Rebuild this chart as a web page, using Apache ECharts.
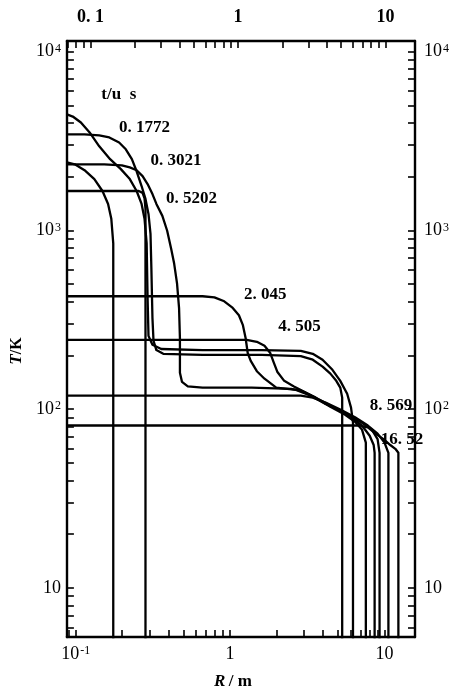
<!DOCTYPE html>
<html><head><meta charset="utf-8">
<script src="https://cdn.jsdelivr.net/npm/echarts@6/dist/echarts.min.js"></script>
<style>html,body{margin:0;padding:0;background:#fff}#c{width:452px;height:695px}</style>
</head><body><div id="c"></div>
<script>
// ---- data: [R (m), T (K)] ----
const curveEarly1 = [[0.0877,2400],[0.0986,2340],[0.114,2170],[0.132,1935],[0.149,1660],[0.162,1405],[0.170,1160],[0.175,845],[0.175,5]];
const curveEarly2 = [[0.0877,1660],[0.256,1660],[0.271,1620],[0.279,1510],[0.283,1320],[0.283,5]];
const curveT01772 = [[0.0877,4450],[0.0957,4330],[0.108,4010],[0.123,3530],[0.142,2950],[0.167,2500],[0.196,2200],[0.224,1935],[0.248,1660],[0.267,1405],[0.279,1160],[0.288,845],[0.292,417],[0.296,257],[0.314,229],[0.358,217],[0.663,214],[1.60,214],[2.87,212],[3.43,204],[3.97,189],[4.60,166],[5.17,144],[5.73,122],[6.07,102],[6.25,84],[6.25,5]];
const curveT03021 = [[0.0877,3440],[0.114,3440],[0.142,3400],[0.165,3310],[0.191,3100],[0.211,2840],[0.231,2500],[0.248,2140],[0.267,1770],[0.283,1500],[0.296,1235],[0.305,955],[0.309,612],[0.314,323],[0.319,241],[0.333,214],[0.369,204],[0.663,201],[1.60,201],[2.87,198],[3.43,189],[3.97,173],[4.46,158],[4.87,144],[5.17,132],[5.32,116],[5.32,5]];
const curveT05202 = [[0.0877,2340],[0.153,2340],[0.199,2310],[0.224,2250],[0.248,2170],[0.271,2010],[0.292,1815],[0.314,1595],[0.333,1405],[0.364,1205],[0.391,995],[0.415,790],[0.434,652],[0.453,505],[0.467,367],[0.473,250],[0.473,160],[0.488,142],[0.532,134],[0.663,132],[1.38,132],[2.48,130],[2.87,127],[3.58,116],[4.46,103],[5.56,93],[6.44,85],[7.14,77],[7.57,65],[7.57,5]];
const curveT2045 = [[0.0877,428],[0.663,428],[0.791,422],[0.916,401],[1.03,371],[1.14,335],[1.21,295],[1.26,250],[1.30,206],[1.36,186],[1.49,163],[1.67,148],[1.99,132],[2.67,128],[3.33,119],[4.15,107],[5.17,98],[6.16,90],[7.14,81],[8.02,71],[8.51,63],[8.63,57],[8.63,5]];
const curveT4505 = [[0.0877,244],[1.28,244],[1.49,238],[1.67,226],[1.82,206],[1.91,184],[2.02,162],[2.24,144],[2.59,134],[3.09,124],[3.85,112],[4.80,101],[5.98,92],[7.14,84],[8.26,77],[9.02,68],[9.29,57],[9.29,5]];
const curveT8569 = [[0.0877,119],[2.87,119],[3.43,116],[4.15,109],[5.17,99.5],[6.44,90],[7.80,81],[9.02,73],[10.0,65],[10.6,57],[10.6,5]];
const curveT1652 = [[0.0877,81],[6.93,81],[7.80,79],[8.76,73],[9.86,68],[10.9,63],[11.75,60],[12.3,57],[12.3,5]];

const curves = [curveEarly1, curveEarly2, curveT01772, curveT03021, curveT05202, curveT2045, curveT4505, curveT8569, curveT1652];
const curveNames = ['early-1', 'early-2', '0.1772', '0.3021', '0.5202', '2.045', '4.505', '8.569', '16.52'];

// annotation texts and their anchor (left edge) in data units
const noteTexts = ['t/u  s', '0. 1772', '0. 3021', '0. 5202', '2. 045', '4. 505', '8. 569', '16. 52'];
const noteR = [0.1465, 0.191, 0.305, 0.385, 1.23, 2.05, 8.02, 9.44];
const noteT = [5740, 3763, 2467, 1499, 439, 288, 104.7, 67.8];

// axis ticks / labels
const xTicksBottom = [0.09,0.1,0.2,0.3,0.4,0.5,0.6,0.7,0.8,0.9,1,2,3,4,5,6,7,8,9,10];
const xLabelsBottom = [0.1, 1, 10];
const xTicksTop = [0.07,0.08,0.09,0.1,0.2,0.3,0.4,0.5,0.6,0.7,0.8,0.9,1,2,3,4,5,6,7,8,9,10];
const xLabelsTop = [0.1, 1, 10];
const yTicks = [6,7,8,9,10,20,30,40,50,60,70,80,90,100,200,300,400,500,600,700,800,900,1000,2000,3000,4000,5000,6000,7000,8000,9000,10000];
const yLabels = [10, 100, 1000, 10000];

const SERIF = "'Liberation Serif','DejaVu Serif',serif";
const INK = '#000';

const richPow = {
  b: { fontSize: 18, fontFamily: SERIF, color: INK },
  s: { fontSize: 12, fontFamily: SERIF, color: INK, verticalAlign: 'top', padding: [0, 0, 0, 1] }
};
function powLabel(v) {
  const e = Math.round(Math.log10(v));
  if (e === 0) return '{b|1}';
  if (e === 1) return '{b|10}';
  return '{b|10}{s|' + e + '}';
}
function bottomLabel(v) {
  const e = Math.round(Math.log10(v));
  if (e === 0) return '{b|1}';
  if (e === 1) return '{b|10}';
  return '{b|10}{s|' + (e < 0 ? '-' : '') + Math.abs(e) + '}';
}

const tickStyle = { show: true, inside: true, length: 7, lineStyle: { color: INK, width: 1.6 } };
const lineStyleAxis = { show: true, onZero: false, lineStyle: { color: INK, width: 2.4 } };

const chart = echarts.init(document.getElementById('c'), null, { renderer: 'canvas' });
chart.setOption({
  animation: false,
  backgroundColor: '#fff',
  grid: { left: 62, right: 36, top: 41, bottom: 54 },
  xAxis: [
    {
      type: 'log', position: 'bottom', min: 0.08765, max: 15.76,
      axisLine: lineStyleAxis,
      axisTick: Object.assign({ customValues: xTicksBottom }, tickStyle),
      minorTick: { show: false },
      splitLine: { show: false },
      axisLabel: { customValues: xLabelsBottom, formatter: bottomLabel, rich: richPow, margin: 8 },
      name: '{i|R} {n|/ m}', nameLocation: 'middle', nameGap: 36,
      nameTextStyle: { padding: [0, 16, 0, 0], rich: {
        i: { fontSize: 17, fontStyle: 'italic', fontWeight: 'bold', fontFamily: SERIF, color: INK },
        n: { fontSize: 17, fontWeight: 'bold', fontFamily: SERIF, color: INK } } }
    },
    {
      type: 'log', position: 'top', min: 0.0692, max: 15.85,
      axisLine: lineStyleAxis,
      axisTick: Object.assign({ customValues: xTicksTop }, tickStyle),
      splitLine: { show: false },
      axisLabel: { customValues: xLabelsTop, margin: 15,
        formatter: v => (v < 1 ? '0. 1' : String(Math.round(v))),
        fontSize: 18, fontFamily: SERIF, fontWeight: 'bold', color: INK }
    }
  ],
  yAxis: [
    {
      type: 'log', position: 'left', min: 5.317, max: 11455,
      axisLine: lineStyleAxis,
      axisTick: Object.assign({ customValues: yTicks }, tickStyle),
      splitLine: { show: false },
      axisLabel: { customValues: yLabels, formatter: powLabel, rich: richPow, margin: 6 },
      name: '{i|T}{n|/K}', nameLocation: 'middle', nameGap: 38, nameRotate: 90,
      nameTextStyle: { padding: [0, 24, 0, 0], rich: {
        i: { fontSize: 17, fontStyle: 'italic', fontWeight: 'bold', fontFamily: SERIF, color: INK },
        n: { fontSize: 16, fontWeight: 'bold', fontFamily: SERIF, color: INK } } }
    },
    {
      type: 'log', position: 'right', min: 5.317, max: 11455,
      axisLine: lineStyleAxis,
      axisTick: Object.assign({ customValues: yTicks }, tickStyle),
      splitLine: { show: false },
      axisLabel: { customValues: yLabels, formatter: powLabel, rich: richPow, margin: 9 }
    }
  ],
  series: curves.map((d, i) => ({
    type: 'line', name: curveNames[i], data: d,
    xAxisIndex: 0, yAxisIndex: 0,
    showSymbol: false, symbol: 'none', clip: true,
    lineStyle: { color: INK, width: 2.3, join: 'round' }
  })).concat([{
    type: 'scatter', name: 'notes',
    xAxisIndex: 0, yAxisIndex: 0,
    symbolSize: 0, silent: true,
    itemStyle: { opacity: 1, color: INK },
    data: noteR.map((r, i) => [r, noteT[i]]),
    label: {
      show: true, position: 'right', distance: 0, opacity: 1,
      formatter: p => noteTexts[p.dataIndex],
      fontSize: 17, fontFamily: SERIF, fontWeight: 'bold', color: INK
    }
  }])
});
</script>
</body></html>
